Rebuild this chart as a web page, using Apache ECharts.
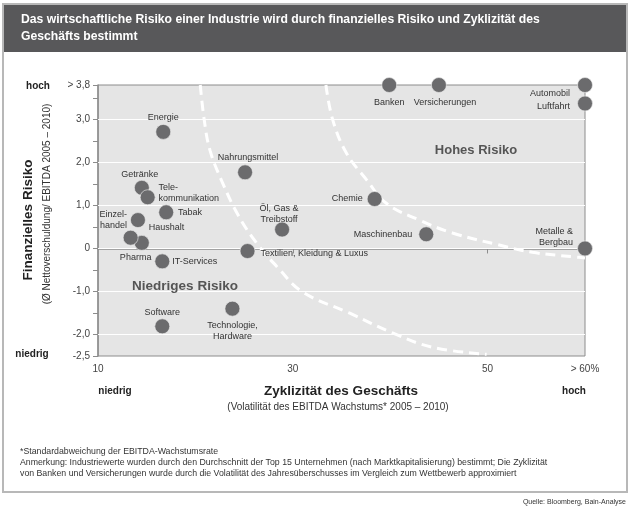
<!DOCTYPE html>
<html><head><meta charset="utf-8">
<script src="https://cdn.jsdelivr.net/npm/echarts@6/dist/echarts.min.js"></script>
<style>html,body{margin:0;padding:0;background:#fff}#c{width:630px;height:513px}</style>
</head><body><div id="c"></div>
<script>
// ---- data ----
const industries = ['Energie','Getränke','Telekommunikation','Tabak','Einzelhandel','Haushalt','Pharma','IT-Services','Software','Technologie, Hardware','Nahrungsmittel','Textilien, Kleidung & Luxus','Öl, Gas & Treibstoff','Chemie','Maschinenbau','Metalle & Bergbau','Banken','Versicherungen','Automobil','Luftfahrt'];
const labelTexts = ['Energie','Getränke','Tele-\nkommunikation','Tabak','Einzel-\nhandel','Haushalt','Pharma','IT-Services','Software','Technologie,\nHardware','Nahrungsmittel','Textilien, Kleidung & Luxus','Öl, Gas &\nTreibstoff','Chemie','Maschinenbau','Metalle &\nBergbau','Banken','Versicherungen','Automobil','Luftfahrt'];
const zyklizitaet = [16.7, 14.5, 15.1, 17.0, 14.1, 14.5, 13.35, 16.6, 16.6, 23.8, 25.1, 25.35, 28.9, 38.4, 43.7, 60, 39.9, 45.0, 60, 60];
const finanzRisiko = [2.71, 1.41, 1.19, 0.84, 0.66, 0.13, 0.25, -0.30, -1.81, -1.40, 1.77, -0.06, 0.44, 1.15, 0.33, 0.0, 3.8, 3.8, 3.8, 3.37];

const xTickValues = [10, 30, 50, 60];
const xTickLabels = ['10', '30', '50', '> 60%'];
const yTickValues = [-2.5, -2, -1, 0, 1, 2, 3, 3.8];
const yTickLabels = ['-2,5', '-2,0', '-1,0', '0', '1,0', '2,0', '3,0', '> 3,8'];
const gridValues = [-2, -1, 0, 1, 2, 3];

const innerCurveX = [20.5, 20.9, 21.5, 22.8, 24.4, 26.3, 28.4, 31.0, 35.8, 40.3, 44.4, 49.9];
const innerCurveY = [3.8, 3.0, 2.28, 1.52, 0.77, 0.12, -0.43, -1.01, -1.50, -1.97, -2.30, -2.46];
const outerCurveX = [33.4, 34.1, 35.5, 37.6, 39.6, 43.0, 46.4, 51.2, 54.6, 59.1, 60];
const outerCurveY = [3.8, 2.99, 2.22, 1.59, 1.05, 0.66, 0.36, 0.08, -0.09, -0.20, -0.22];

// ---- label placement (style only) ----
const labelPlace = {
  'Energie': {position:'top', distance:1},
  'Getränke': {position:'top', distance:0, offset:[-2,0]},
  'Telekommunikation': {position:'right', distance:3, offset:[0,-4], align:'left'},
  'Tabak': {position:'right', distance:4},
  'Einzelhandel': {position:'left', distance:3, align:'right'},
  'Haushalt': {position:'right', distance:-1, offset:[0,-15]},
  'Pharma': {position:'bottom', distance:6, offset:[5,0]},
  'IT-Services': {position:'right', distance:2},
  'Software': {position:'top', distance:0},
  'Technologie, Hardware': {position:'bottom', distance:3},
  'Nahrungsmittel': {position:'top', distance:1, offset:[3,0]},
  'Textilien, Kleidung & Luxus': {position:'right', distance:5, offset:[0,2]},
  'Öl, Gas & Treibstoff': {position:'top', distance:-3, offset:[-3,0]},
  'Chemie': {position:'left', distance:4},
  'Maschinenbau': {position:'left', distance:6},
  'Metalle & Bergbau': {position:'left', distance:4, offset:[0,-11], align:'right'},
  'Banken': {position:'bottom', distance:4},
  'Versicherungen': {position:'bottom', distance:4, offset:[6,0]},
  'Automobil': {position:'left', distance:7, offset:[0,9]},
  'Luftfahrt': {position:'left', distance:7, offset:[0,3]}
};

const FONT = '"Liberation Sans", Arial, sans-serif';
const pointData = industries.map((n, i) => ({
  name: n,
  value: [zyklizitaet[i], finanzRisiko[i]],
  label: Object.assign({show:true, formatter: labelTexts[i]}, labelPlace[n])
}));

function findLabel(v, vals, labs) {
  for (let i = 0; i < vals.length; i++) if (Math.abs(vals[i] - v) < 1e-6) return labs[i];
  return '';
}

const chart = echarts.init(document.getElementById('c'), null, {renderer:'canvas'});
const curveStyle = {color:'#ffffff', width:3, type:[10,6]};
chart.setOption({
  animation:false,
  backgroundColor:'#ffffff',
  grid:{left:98, top:85, width:487, height:271, show:true, backgroundColor:'#e5e5e5', borderColor:'#8c8c8c', borderWidth:1},
  xAxis:{type:'value', min:10, max:60, interval:10,
    axisLine:{show:true, lineStyle:{color:'#8c8c8c', width:1.5}},
    axisTick:{show:true, length:5, customValues:[30,50,60], lineStyle:{color:'#8c8c8c'}},
    axisLabel:{customValues:xTickValues, formatter:v => findLabel(v, xTickValues, xTickLabels), color:'#444', fontSize:10, fontFamily:FONT, margin:8},
    splitLine:{show:false}},
  yAxis:{type:'value', min:-2.5, max:3.8, interval:0.5,
    axisLine:{show:true, lineStyle:{color:'#8c8c8c', width:1.5}},
    axisTick:{show:true, length:5, lineStyle:{color:'#8c8c8c'}},
    axisLabel:{formatter:v => findLabel(v, yTickValues, yTickLabels), color:'#444', fontSize:10, fontFamily:FONT, margin:8},
    splitLine:{show:false}},
  series:[
    {type:'line', data:[], z:1, silent:true,
     markLine:{z:1, silent:true, symbol:'none', label:{show:false}, lineStyle:{color:'#ffffff', width:1, type:'solid'},
       data: gridValues.map(v => ({yAxis:v}))}},
    {type:'line', z:2, silent:true, smooth:0.4, showSymbol:false, lineStyle:curveStyle,
     data: innerCurveX.map((x,i) => [x, innerCurveY[i]])},
    {type:'line', z:2, silent:true, smooth:0.4, showSymbol:false, lineStyle:curveStyle,
     data: outerCurveX.map((x,i) => [x, outerCurveY[i]])},
    {type:'scatter', z:3, symbolSize:15, clip:false,
     itemStyle:{color:'#6b6b6d', borderColor:'rgba(235,235,235,0.8)', borderWidth:0.8, opacity:1},
     label:{color:'#333', fontSize:9, fontFamily:FONT, lineHeight:11},
     data: pointData}
  ],
  graphic:[
    {type:'rect', shape:{x:3, y:4, width:624, height:488}, style:{fill:'none', stroke:'#b8b8b8', lineWidth:2}, z:10},
    {type:'rect', shape:{x:3, y:5, width:624, height:47}, style:{fill:'#58585a'}, z:9},
    {type:'text', x:21, y:20, style:{text:'Das wirtschaftliche Risiko einer Industrie wird durch finanzielles Risiko und Zyklizität des', fill:'#ffffff', font:'bold 12.2px '+FONT, textVerticalAlign:'middle'}, z:11},
    {type:'text', x:21, y:37, style:{text:'Geschäfts bestimmt', fill:'#ffffff', font:'bold 12.2px '+FONT, textVerticalAlign:'middle'}, z:11},
    {type:'text', x:476, y:150, style:{text:'Hohes Risiko', fill:'#555', font:'bold 13px '+FONT, textAlign:'center', textVerticalAlign:'middle'}, z:11},
    {type:'text', x:185, y:286, style:{text:'Niedriges Risiko', fill:'#555', font:'bold 13.5px '+FONT, textAlign:'center', textVerticalAlign:'middle'}, z:11},
    {type:'text', x:28, y:220, rotation:Math.PI/2, style:{text:'Finanzielles Risiko', fill:'#222', font:'bold 13.5px '+FONT, textAlign:'center', textVerticalAlign:'middle'}, z:11},
    {type:'text', x:47, y:204, rotation:Math.PI/2, style:{text:'(Ø Nettoverschuldung/ EBITDA 2005 – 2010)', fill:'#333', font:'10px '+FONT, textAlign:'center', textVerticalAlign:'middle'}, z:11},
    {type:'text', x:38, y:86, style:{text:'hoch', fill:'#222', font:'bold 10px '+FONT, textAlign:'center', textVerticalAlign:'middle'}, z:11},
    {type:'text', x:32, y:354, style:{text:'niedrig', fill:'#222', font:'bold 10px '+FONT, textAlign:'center', textVerticalAlign:'middle'}, z:11},
    {type:'text', x:115, y:391, style:{text:'niedrig', fill:'#222', font:'bold 10px '+FONT, textAlign:'center', textVerticalAlign:'middle'}, z:11},
    {type:'text', x:574, y:391, style:{text:'hoch', fill:'#222', font:'bold 10px '+FONT, textAlign:'center', textVerticalAlign:'middle'}, z:11},
    {type:'text', x:341, y:391, style:{text:'Zyklizität des Geschäfts', fill:'#222', font:'bold 13.5px '+FONT, textAlign:'center', textVerticalAlign:'middle'}, z:11},
    {type:'text', x:338, y:407, style:{text:'(Volatilität des EBITDA Wachstums* 2005 – 2010)', fill:'#333', font:'10px '+FONT, textAlign:'center', textVerticalAlign:'middle'}, z:11},
    {type:'text', x:20, y:452, style:{text:'*Standardabweichung der EBITDA-Wachstumsrate', fill:'#333', font:'8.75px '+FONT, textVerticalAlign:'middle'}, z:11},
    {type:'text', x:20, y:463, style:{text:'Anmerkung: Industriewerte wurden durch den Durchschnitt der Top 15 Unternehmen (nach Marktkapitalisierung) bestimmt; Die Zyklizität', fill:'#333', font:'8.75px '+FONT, textVerticalAlign:'middle'}, z:11},
    {type:'text', x:20, y:474, style:{text:'von Banken und Versicherungen wurde durch die Volatilität des Jahresüberschusses im Vergleich zum Wettbewerb approximiert', fill:'#333', font:'8.75px '+FONT, textVerticalAlign:'middle'}, z:11},
    {type:'text', x:626, y:502, style:{text:'Quelle: Bloomberg, Bain-Analyse', fill:'#333', font:'7px '+FONT, textAlign:'right', textVerticalAlign:'middle'}, z:11}
  ]
});
</script></body></html>
